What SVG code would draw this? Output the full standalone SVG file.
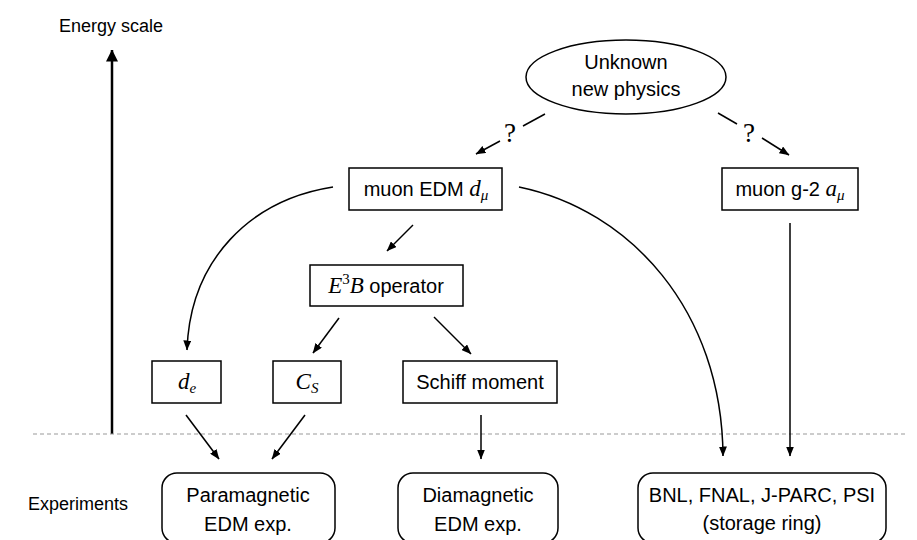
<svg xmlns="http://www.w3.org/2000/svg" width="917" height="540" viewBox="0 0 917 540">
  <defs>
    <marker id="head" viewBox="0 0 10 8" refX="9.5" refY="4" markerWidth="10" markerHeight="8" markerUnits="userSpaceOnUse" orient="auto">
      <path d="M0,0 L10,4 L0,8 Z" fill="#000"/>
    </marker>
    <marker id="bighead" viewBox="0 0 12 12" refX="11.5" refY="6" markerWidth="12" markerHeight="12" markerUnits="userSpaceOnUse" orient="auto">
      <path d="M0,0 L12,6 L0,12 Z" fill="#000"/>
    </marker>
  </defs>
  <style>
    .box { fill: #fff; stroke: #000; stroke-width: 1.5; }
    .lbl { font-family: "Liberation Sans", Arial, sans-serif; font-size: 20px; fill: #000; text-anchor: middle; }
    .side { font-family: "Liberation Sans", Arial, sans-serif; font-size: 18px; fill: #000; }
    .m { font-family: "Liberation Serif", "Times New Roman", serif; font-style: italic; font-size: 23px; }
    .sub { font-family: "Liberation Serif", "Times New Roman", serif; font-style: italic; font-size: 15px; }
    .sup { font-family: "Liberation Serif", "Times New Roman", serif; font-size: 15px; }
    .q { font-family: "Liberation Serif", "Times New Roman", serif; font-size: 27px; fill: #000; text-anchor: middle; }
    .edge { fill: none; stroke: #000; stroke-width: 1.5; marker-end: url(#head); }
    .plain { fill: none; stroke: #000; stroke-width: 1.5; }
  </style>

  <rect width="917" height="540" fill="#fff"/>

  <!-- energy axis and scale divider -->
  <g id="axis">
    <text class="side" x="59" y="32">Energy scale</text>
    <line x1="112" y1="434" x2="112" y2="50" stroke="#000" stroke-width="2.5" marker-end="url(#bighead)"/>
    <line x1="33" y1="434" x2="905" y2="434" stroke="#999" stroke-width="1.2" stroke-dasharray="4 3"/>
    <text class="side" x="28" y="510">Experiments</text>
  </g>

  <!-- connectors -->
  <g id="connectors">
    <line class="plain" x1="545" y1="114" x2="523" y2="126"/>
    <line class="edge" x1="500" y1="141" x2="476" y2="154"/>
    <text class="q" x="510" y="142">?</text>
    <line class="plain" x1="718" y1="113" x2="737" y2="124"/>
    <line class="edge" x1="762" y1="138" x2="789" y2="155"/>
    <text class="q" x="749" y="142">?</text>

    <path class="edge" d="M333,187 C250,200 190,260 187,350"/>
    <path class="edge" d="M519,187 C630,210 722,310 723,456"/>
    <line class="edge" x1="790" y1="223" x2="790" y2="456"/>
    <line class="edge" x1="413" y1="225" x2="387" y2="251"/>
    <line class="edge" x1="339" y1="318" x2="313" y2="353"/>
    <line class="edge" x1="434" y1="317" x2="471" y2="354"/>
    <line class="edge" x1="186" y1="415" x2="219" y2="459"/>
    <line class="edge" x1="305" y1="415" x2="272" y2="459"/>
    <line class="edge" x1="481" y1="415" x2="481" y2="459"/>
  </g>

  <g id="new-physics">
    <ellipse class="box" cx="626" cy="77" rx="100" ry="37"/>
    <text class="lbl" x="626" y="69">Unknown</text>
    <text class="lbl" x="626" y="96">new physics</text>
  </g>

  <g id="muon-edm">
    <rect class="box" x="349" y="168" width="153" height="42"/>
    <text class="lbl" x="426" y="196">muon EDM <tspan class="m">d</tspan><tspan class="sub" dy="4">μ</tspan></text>
  </g>

  <g id="muon-g2">
    <rect class="box" x="722" y="168" width="136" height="42"/>
    <text class="lbl" x="790" y="196">muon g-2 <tspan class="m">a</tspan><tspan class="sub" dy="4">μ</tspan></text>
  </g>

  <g id="e3b-operator">
    <rect class="box" x="310" y="265" width="153" height="41"/>
    <text class="lbl" x="386" y="293"><tspan class="m">E</tspan><tspan class="sup" dy="-9">3</tspan><tspan class="m" dy="9">B</tspan> operator</text>
  </g>

  <g id="electron-edm">
    <rect class="box" x="152" y="361" width="69" height="42"/>
    <text class="lbl" x="187" y="389"><tspan class="m">d</tspan><tspan class="sub" dy="4">e</tspan></text>
  </g>

  <g id="cs">
    <rect class="box" x="273" y="361" width="68" height="42"/>
    <text class="lbl" x="307" y="389"><tspan class="m">C</tspan><tspan class="sub" dy="4">S</tspan></text>
  </g>

  <g id="schiff">
    <rect class="box" x="403" y="361" width="154" height="42"/>
    <text class="lbl" x="480" y="389">Schiff moment</text>
  </g>

  <g id="paramagnetic">
    <rect class="box" x="162" y="473" width="173" height="70" rx="15"/>
    <text class="lbl" x="248" y="502">Paramagnetic</text>
    <text class="lbl" x="248" y="531">EDM exp.</text>
  </g>

  <g id="diamagnetic">
    <rect class="box" x="398" y="473" width="160" height="70" rx="15"/>
    <text class="lbl" x="478" y="502">Diamagnetic</text>
    <text class="lbl" x="478" y="531">EDM exp.</text>
  </g>

  <g id="storage-ring">
    <rect class="box" x="638" y="473" width="248" height="70" rx="15"/>
    <text class="lbl" x="762" y="502">BNL, FNAL, J-PARC, PSI</text>
    <text class="lbl" x="762" y="530">(storage ring)</text>
  </g>
</svg>
